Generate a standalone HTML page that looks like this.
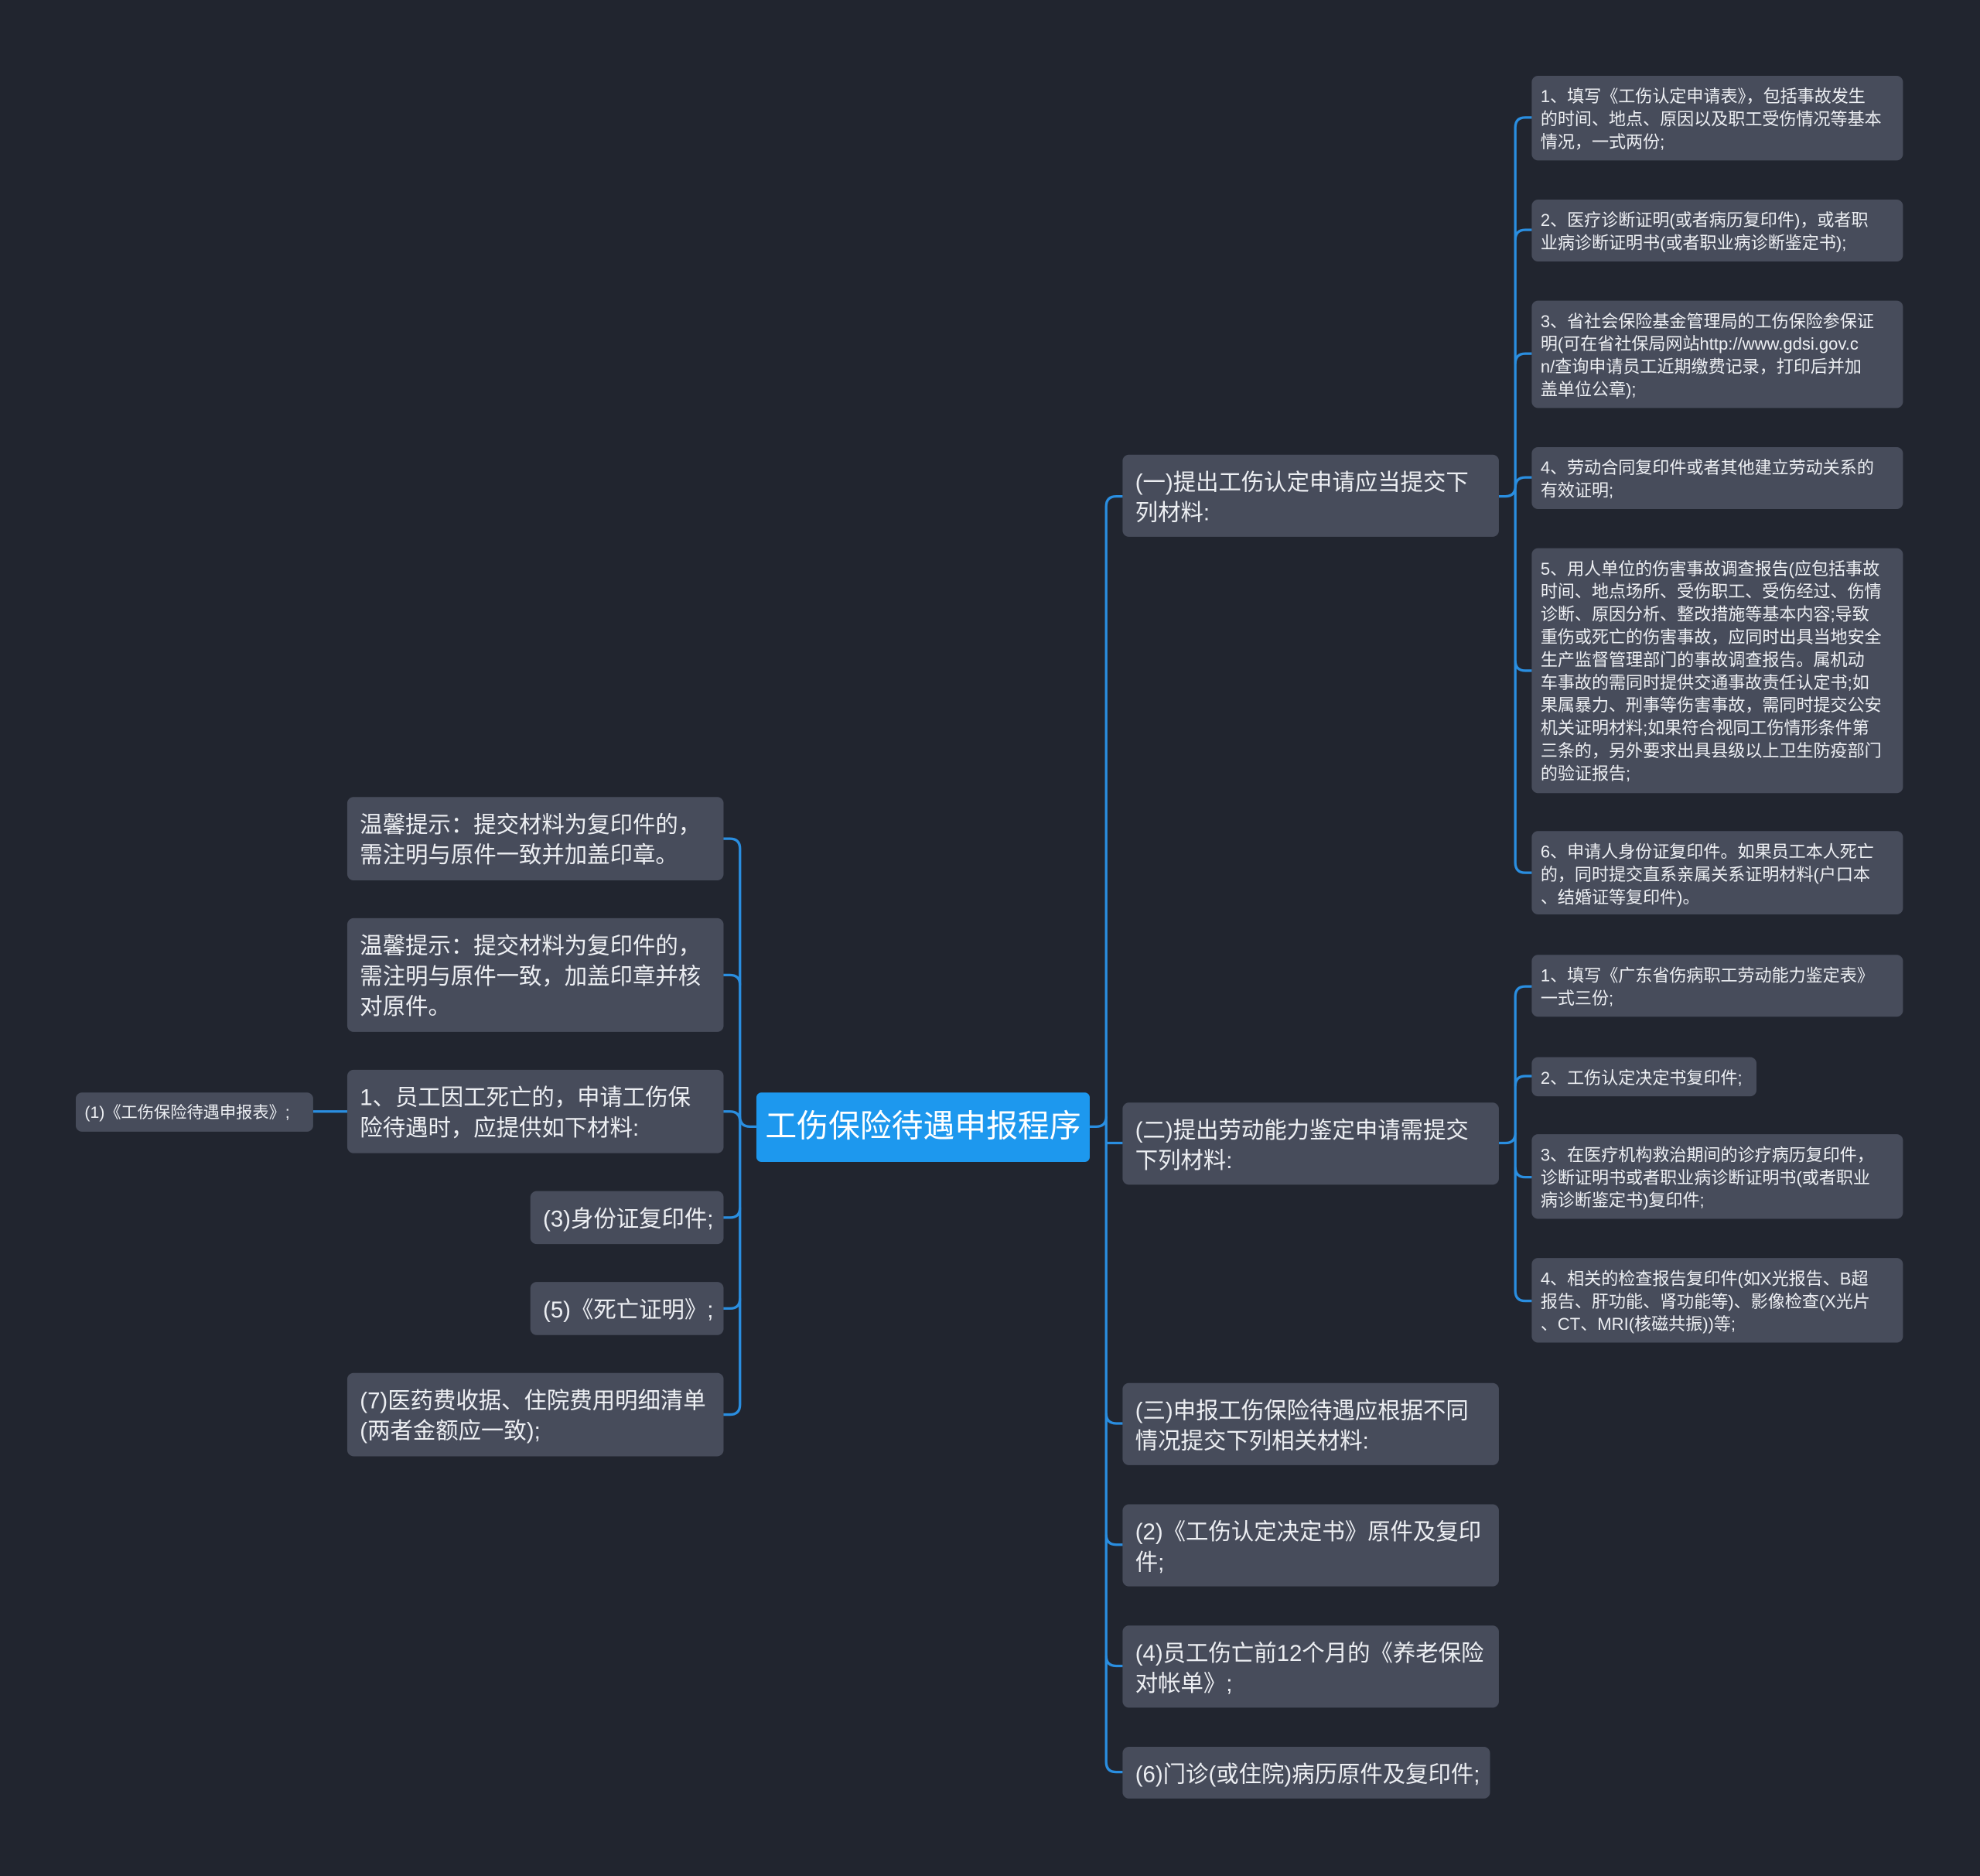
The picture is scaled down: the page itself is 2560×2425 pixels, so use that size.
<!DOCTYPE html>
<html><head><meta charset="utf-8"><style>
html,body{margin:0;padding:0;background:#21252f;}
#w{width:2560px;height:2425px;overflow:hidden;position:relative;background:#21252f;}
#s{position:absolute;left:0;top:0;width:1568px;height:1485px;transform:scale(1.63265);transform-origin:0 0;}
.n{position:absolute;box-sizing:border-box;background:#474c5b;border-radius:5px;color:#eceef2;font-family:"Liberation Sans","Noto Sans CJK SC",sans-serif;white-space:nowrap;}
.l1{font-size:18px;line-height:24px;padding:10px 0 0 10px;}
.l2{font-size:13.5px;line-height:18px;padding:8px 0 0 7px;}
.c{background:#1d98ee;color:#fff;font-size:25px;text-align:center;line-height:55px;border-radius:4px;}
svg{position:absolute;left:0;top:0;}
</style></head><body><div id="w"><div id="s">
<svg width="1568" height="1485" fill="none" stroke="#2a8ee0" stroke-width="2">
<path d="M863 892 H868 Q876 892 876 884 V401 Q876 393 884 393 H889"/>
<path d="M876 884 V1395 Q876 1403 884 1403 H889"/>
<path d="M876 905 Q876 905 884 905 H889"/>
<path d="M876 1119 Q876 1127 884 1127 H889"/>
<path d="M876 1215 Q876 1223 884 1223 H889"/>
<path d="M876 1311 Q876 1319 884 1319 H889"/>
<path d="M599 892 H594 Q586 892 586 884 V672 Q586 664 578 664 H573"/>
<path d="M586 884 V1112 Q586 1120 578 1120 H573"/>
<path d="M586 780 Q586 772 578 772 H573"/>
<path d="M586 888 Q586 880 578 880 H573"/>
<path d="M586 956 Q586 964 578 964 H573"/>
<path d="M586 1028 Q586 1036 578 1036 H573"/>
<path d="M275 880 H248"/>
<path d="M1187 393 H1192 Q1200 393 1200 385 V101 Q1200 93 1208 93 H1213"/>
<path d="M1200 385 V683 Q1200 691 1208 691 H1213"/>
<path d="M1200 190 Q1200 182 1208 182 H1213"/>
<path d="M1200 288 Q1200 280 1208 280 H1213"/>
<path d="M1200 386 Q1200 378 1208 378 H1213"/>
<path d="M1200 523 Q1200 531 1208 531 H1213"/>
<path d="M1187 905 H1192 Q1200 905 1200 897 V789 Q1200 781 1208 781 H1213"/>
<path d="M1200 897 V1022 Q1200 1030 1208 1030 H1213"/>
<path d="M1200 860 Q1200 852 1208 852 H1213"/>
<path d="M1200 924 Q1200 932 1208 932 H1213"/>
</svg>
<div class="n c" style="left:599px;top:865px;width:264px;height:55px;">工伤保险待遇申报程序</div>

<div class="n l1" style="left:889px;top:360px;width:298px;height:65px;">(一)提出工伤认定申请应当提交下<br>列材料:</div>
<div class="n l1" style="left:889px;top:873px;width:298px;height:65px;">(二)提出劳动能力鉴定申请需提交<br>下列材料:</div>
<div class="n l1" style="left:889px;top:1095px;width:298px;height:65px;">(三)申报工伤保险待遇应根据不同<br>情况提交下列相关材料:</div>
<div class="n l1" style="left:889px;top:1191px;width:298px;height:65px;">(2)《工伤认定决定书》原件及复印<br>件;</div>
<div class="n l1" style="left:889px;top:1287px;width:298px;height:65px;">(4)员工伤亡前12个月的《养老保险<br>对帐单》;</div>
<div class="n l1" style="left:889px;top:1383px;width:291px;height:41px;">(6)门诊(或住院)病历原件及复印件;</div>

<div class="n l1" style="left:275px;top:631px;width:298px;height:66px;">温馨提示：提交材料为复印件的，<br>需注明与原件一致并加盖印章。</div>
<div class="n l1" style="left:275px;top:727px;width:298px;height:90px;">温馨提示：提交材料为复印件的，<br>需注明与原件一致，加盖印章并核<br>对原件。</div>
<div class="n l1" style="left:275px;top:847px;width:298px;height:66px;">1、员工因工死亡的，申请工伤保<br>险待遇时，应提供如下材料:</div>
<div class="n l1" style="left:420px;top:943px;width:153px;height:42px;">(3)身份证复印件;</div>
<div class="n l1" style="left:420px;top:1015px;width:153px;height:42px;">(5)《死亡证明》;</div>
<div class="n l1" style="left:275px;top:1087px;width:298px;height:66px;">(7)医药费收据、住院费用明细清单<br>(两者金额应一致);</div>
<div class="n" style="left:60px;top:865px;width:188px;height:31px;font-size:13px;line-height:31px;padding-left:7px;">(1)《工伤保险待遇申报表》;</div>

<div class="n l2" style="left:1213px;top:60px;width:294px;height:67px;">1、填写《工伤认定申请表》，包括事故发生<br>的时间、地点、原因以及职工受伤情况等基本<br>情况，一式两份;</div>
<div class="n l2" style="left:1213px;top:158px;width:294px;height:49px;">2、医疗诊断证明(或者病历复印件)，或者职<br>业病诊断证明书(或者职业病诊断鉴定书);</div>
<div class="n l2" style="left:1213px;top:238px;width:294px;height:85px;">3、省社会保险基金管理局的工伤保险参保证<br>明(可在省社保局网站http://www.gdsi.gov.c<br>n/查询申请员工近期缴费记录，打印后并加<br>盖单位公章);</div>
<div class="n l2" style="left:1213px;top:354px;width:294px;height:49px;">4、劳动合同复印件或者其他建立劳动关系的<br>有效证明;</div>
<div class="n l2" style="left:1213px;top:434px;width:294px;height:194px;">5、用人单位的伤害事故调查报告(应包括事故<br>时间、地点场所、受伤职工、受伤经过、伤情<br>诊断、原因分析、整改措施等基本内容;导致<br>重伤或死亡的伤害事故，应同时出具当地安全<br>生产监督管理部门的事故调查报告。属机动<br>车事故的需同时提供交通事故责任认定书;如<br>果属暴力、刑事等伤害事故，需同时提交公安<br>机关证明材料;如果符合视同工伤情形条件第<br>三条的，另外要求出具县级以上卫生防疫部门<br>的验证报告;</div>
<div class="n l2" style="left:1213px;top:658px;width:294px;height:66px;">6、申请人身份证复印件。如果员工本人死亡<br>的，同时提交直系亲属关系证明材料(户口本<br>、结婚证等复印件)。</div>
<div class="n l2" style="left:1213px;top:756px;width:294px;height:49px;">1、填写《广东省伤病职工劳动能力鉴定表》<br>一式三份;</div>
<div class="n l2" style="left:1213px;top:837px;width:178px;height:31px;">2、工伤认定决定书复印件;</div>
<div class="n l2" style="left:1213px;top:898px;width:294px;height:67px;">3、在医疗机构救治期间的诊疗病历复印件，<br>诊断证明书或者职业病诊断证明书(或者职业<br>病诊断鉴定书)复印件;</div>
<div class="n l2" style="left:1213px;top:996px;width:294px;height:67px;">4、相关的检查报告复印件(如X光报告、B超<br>报告、肝功能、肾功能等)、影像检查(X光片<br>、CT、MRI(核磁共振))等;</div>
</div></div></body></html>
